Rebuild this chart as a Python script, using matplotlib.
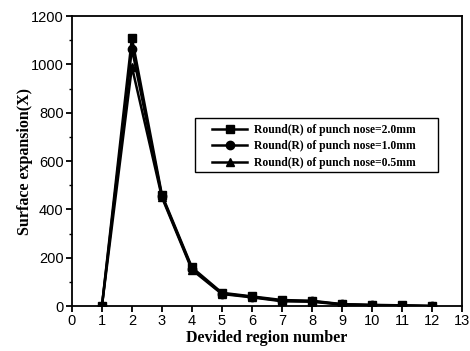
import matplotlib
matplotlib.use("Agg")
import matplotlib.pyplot as plt
from matplotlib.patches import Rectangle
from matplotlib.ticker import MultipleLocator

# region numbers and surface expansion for the three punch nose radii
regions = [1, 2, 3, 4, 5, 6, 7, 8, 9, 10, 11, 12]
r20 = [0, 1110, 460, 160, 55, 40, 25, 22, 8, 5, 3, 0]
r10 = [0, 1065, 455, 155, 52, 38, 22, 20, 7, 4, 2, 0]
r05 = [0, 990, 450, 150, 50, 36, 20, 18, 6, 3, 2, 0]
labels = ["Round(R) of punch nose=2.0mm",
          "Round(R) of punch nose=1.0mm",
          "Round(R) of punch nose=0.5mm"]

fig = plt.figure(figsize=(4.7, 3.51), dpi=100)
ax = fig.add_axes([0.153, 0.128, 0.830, 0.826])

ax.plot(regions, r20, color='black', marker='s', markersize=6, linewidth=1.8, label=labels[0])
ax.plot(regions, r10, color='black', marker='o', markersize=6, linewidth=1.8, label=labels[1])
ax.plot(regions, r05, color='black', marker='^', markersize=6, linewidth=1.8, label=labels[2])

ax.set_xlim(0, 13)
ax.set_ylim(0, 1200)
ax.xaxis.set_major_locator(MultipleLocator(1))
ax.yaxis.set_major_locator(MultipleLocator(200))
ax.yaxis.set_minor_locator(MultipleLocator(100))
ax.tick_params(axis='both', which='major', direction='out', length=4, width=1.3, labelsize=10.5, pad=2)
ax.tick_params(axis='y', which='minor', direction='out', length=2, width=1)
for lab in ax.get_xticklabels() + ax.get_yticklabels():
    lab.set_family('Liberation Sans')
for s in ax.spines.values():
    s.set_linewidth(1.3)

ax.set_xlabel('Devided region number', fontsize=11.5, fontweight='bold', family='Liberation Serif', labelpad=1)
ax.set_ylabel('Surface expansion(X)', fontsize=11.5, fontweight='bold', family='Liberation Serif', labelpad=-2)

# legend box is wider than its content in the original, so draw it separately
ax.add_patch(Rectangle((0.315, 0.462), 0.623, 0.186, transform=ax.transAxes,
                       facecolor='white', edgecolor='black', linewidth=1.0, zorder=4))
leg = ax.legend(loc='upper left', bbox_to_anchor=(0.36, 0.628), frameon=False,
                prop={'family': 'Liberation Serif', 'weight': 'bold', 'size': 8.4},
                handlelength=3.0, handletextpad=0.6, borderpad=0, labelspacing=0.38, borderaxespad=0)
leg.set_zorder(5)

plt.savefig('out.png', dpi=100)
plt.close()
